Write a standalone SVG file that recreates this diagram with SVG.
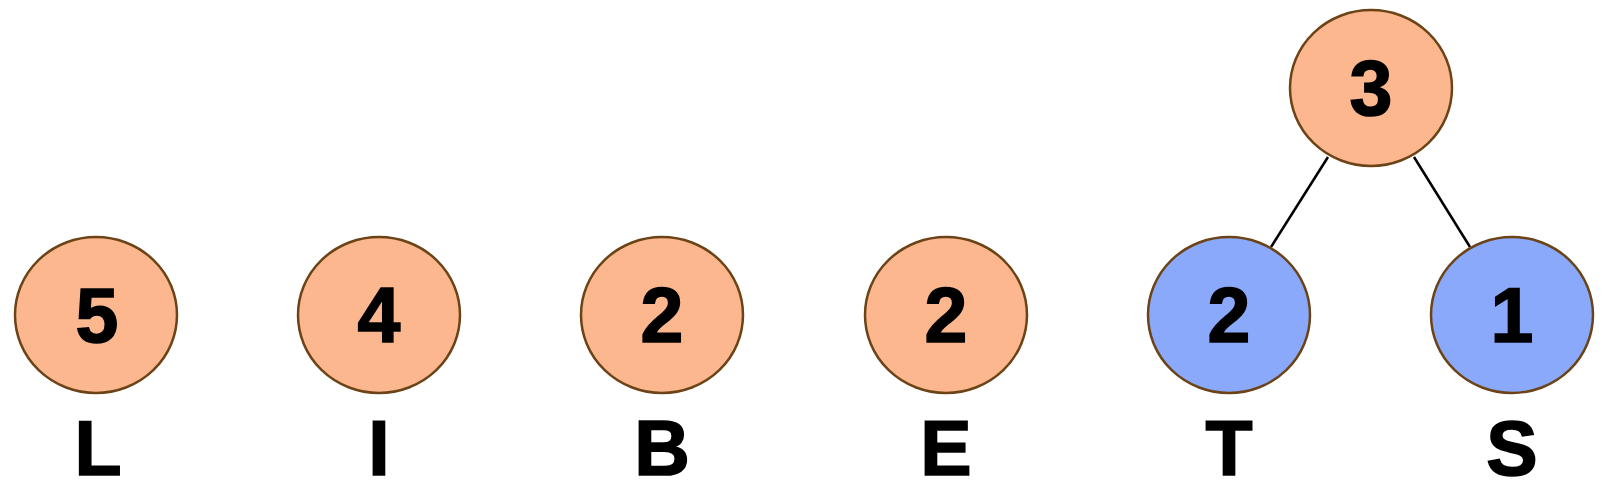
<svg xmlns="http://www.w3.org/2000/svg" width="1603" height="497" viewBox="0 0 1603 497">
<style>
.o{fill:#fcb78e;stroke:#6b4316;stroke-width:2.5}
.b{fill:#8aa9fb;stroke:#6b4316;stroke-width:2.5}
.n{font-family:"Liberation Sans",Arial,sans-serif;font-weight:bold;font-size:77px;text-anchor:middle;fill:#000;stroke:#000;stroke-width:1.6}
.e{stroke:#000;stroke-width:2.5;fill:none}
</style>
<rect width="1603" height="497" fill="#fff"/>
<g id="edges">
<line class="e" x1="1328" y1="157" x2="1271" y2="247"/>
<line class="e" x1="1414" y1="157" x2="1470" y2="247"/>
</g>
<g id="root"><ellipse class="o" cx="1371" cy="88" rx="81" ry="78"/><text class="n" x="1371" y="115">3</text></g>
<g id="L"><ellipse class="o" cx="96" cy="315" rx="81" ry="78"/><text class="n" x="97" y="342">5</text><text class="n" x="98" y="475">L</text></g>
<g id="I"><ellipse class="o" cx="379" cy="315" rx="81" ry="78"/><text class="n" x="379" y="342">4</text><text class="n" x="379" y="475">I</text></g>
<g id="B"><ellipse class="o" cx="662" cy="315" rx="81" ry="78"/><text class="n" x="662" y="342">2</text><text class="n" x="662" y="475">B</text></g>
<g id="E"><ellipse class="o" cx="946" cy="315" rx="81" ry="78"/><text class="n" x="946" y="342">2</text><text class="n" x="946" y="475">E</text></g>
<g id="T"><ellipse class="b" cx="1229" cy="315" rx="81" ry="78"/><text class="n" x="1229" y="342">2</text><text class="n" x="1229" y="475">T</text></g>
<g id="S"><ellipse class="b" cx="1512" cy="315" rx="81" ry="78"/><text class="n" x="1512" y="342">1</text><text class="n" x="1512" y="475">S</text></g>
</svg>
